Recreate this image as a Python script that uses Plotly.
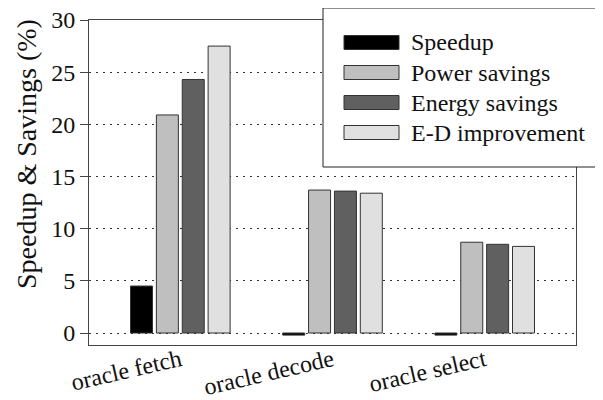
import plotly.graph_objects as go

categories = ["oracle fetch", "oracle decode", "oracle select"]
series_names = ["Speedup", "Power savings", "Energy savings", "E-D improvement"]
speedup = [4.5, -0.2, -0.2]
power_savings = [20.9, 13.7, 8.7]
energy_savings = [24.3, 13.6, 8.5]
ed_improvement = [27.5, 13.4, 8.3]
colors = ["#000000", "#bfbfbf", "#606060", "#e0e0e0"]
y_ticks = [0, 5, 10, 15, 20, 25, 30]
y_title = "Speedup & Savings (%)"

font_family = "Times New Roman, Liberation Serif, serif"
# plot-area geometry in page pixels (used only to place legend box and title)
PX0, PX1, PY0, PY1 = 89.0, 576.0, 345.0, 20.0


def px(x):
    return (x - PX0) / (PX1 - PX0)


def py(y):
    return (PY0 - y) / (PY0 - PY1)


fig = go.Figure()
for name, vals, col in zip(series_names, [speedup, power_savings, energy_savings, ed_improvement], colors):
    fig.add_trace(go.Bar(
        name=name, x=categories, y=vals, showlegend=False,
        marker=dict(color=col, line=dict(color="#333333", width=1)),
    ))

shapes = [dict(type="rect", xref="paper", yref="paper", layer="above",
               x0=px(323), x1=px(640), y0=py(167), y1=py(8),
               fillcolor="white", line=dict(color="#222222", width=1))]
annotations = [dict(xref="paper", yref="paper", x=px(26), y=py(154),
                    xanchor="center", yanchor="middle", showarrow=False, textangle=-90,
                    text=y_title, font=dict(family=font_family, size=28, color="#111111"))]
row_centers = [42.5, 72.5, 102.5, 132.5]
for name, col, yc in zip(series_names, colors, row_centers):
    shapes.append(dict(type="rect", xref="paper", yref="paper", layer="above",
                       x0=px(344), x1=px(399), y0=py(yc + 7), y1=py(yc - 7),
                       fillcolor=col, line=dict(color="#333333", width=1)))
    annotations.append(dict(xref="paper", yref="paper", x=px(409), y=py(yc),
                            xanchor="left", yanchor="middle", showarrow=False,
                            text=name, font=dict(family=font_family, size=24, color="#111111")))

fig.update_layout(
    width=595, height=392,
    barmode="group", bargap=0.32, bargroupgap=0.15,
    paper_bgcolor="white", plot_bgcolor="white",
    margin=dict(l=81, r=27, t=12, b=55, autoexpand=False),
    font=dict(family=font_family, size=24, color="#111111"),
    showlegend=False,
    shapes=shapes, annotations=annotations,
    xaxis=dict(
        range=[-0.6, 2.6], showgrid=False, ticks="", tickangle=-13,
        showline=True, linecolor="#444444", linewidth=1, mirror=True,
        tickfont=dict(size=24), automargin=False, ticklabelstandoff=-9,
        ticklabeloverflow="allow",
    ),
    yaxis=dict(
        range=[-1.15, 30], tickvals=y_ticks, ticks="outside", ticklen=8,
        tickcolor="#444444", showline=True, linecolor="#444444", linewidth=1, mirror=True,
        showgrid=True, gridcolor="#333333", griddash="2px,5px", gridwidth=1,
        zeroline=False, tickfont=dict(size=24), automargin=False,
        ticklabeloverflow="allow",
    ),
)
fig.write_html("out.html")
